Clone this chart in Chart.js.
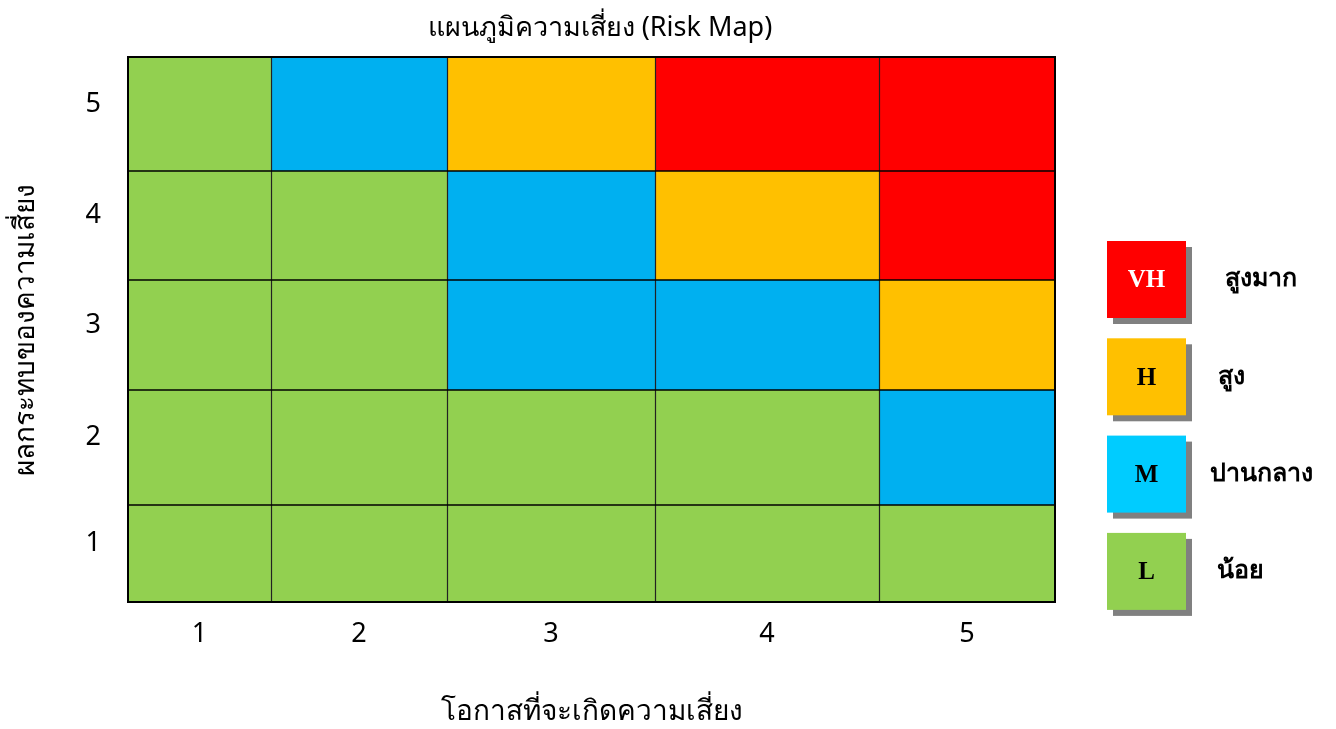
<!DOCTYPE html>
<html>
<head>
<meta charset="utf-8">
<script src="https://cdn.jsdelivr.net/npm/chart.js@4"></script>
<style>
  html, body { margin: 0; padding: 0; background: #fff; }
</style>
</head>
<body>
<canvas id="riskMap" width="1336" height="729"></canvas>
<script>
// ข้อมูลของแผนภูมิ
const likelihoodLabels = ['1', '2', '3', '4', '5'];
const impactLabels = ['1', '2', '3', '4', '5'];
// ระดับความเสี่ยงแต่ละช่อง: แถวจากผลกระทบ 1 (ล่าง) ถึง 5 (บน)
const riskRows = [
    ['L', 'L', 'L', 'L', 'L'],
    ['L', 'L', 'L', 'L', 'M'],
    ['L', 'L', 'M', 'M', 'H'],
    ['L', 'L', 'M', 'H', 'VH'],
    ['L', 'M', 'H', 'VH', 'VH']
];
const levelCodes = ['VH', 'H', 'M', 'L'];
const levelNames = ['สูงมาก', 'สูง', 'ปานกลาง', 'น้อย'];
const chartTitle = 'แผนภูมิความเสี่ยง (Risk Map)';
const xTitle = 'โอกาสที่จะเกิดความเสี่ยง';
const yTitle = 'ผลกระทบของความเสี่ยง';

// สีและขนาด
const cellColors = { VH: '#FF0000', H: '#FFC000', M: '#00B0F0', L: '#92D050' };
const legendColors = { VH: '#FF0000', H: '#FFC000', M: '#00CCFF', L: '#92D050' };
// ขอบช่องไม่เท่ากันเหมือนต้นฉบับ (หน่วยของแกน 0..5)
const colBounds = [0, 0.771, 1.721, 2.843, 4.051, 5];
const rowBounds = [0, 0.890, 1.945, 2.954, 3.954, 5];
const mids = b => b.slice(0, -1).map((v, i) => (v + b[i + 1]) / 2);

const thaiFont = '"Noto Sans", "DejaVu Sans", sans-serif';

const riskPlugin = {
    id: 'riskCells',
    beforeDatasetsDraw(chart) {
        const { ctx, scales: { x, y } } = chart;
        ctx.save();
        riskRows.forEach((row, r) => {
            row.forEach((lvl, c) => {
                const x0 = x.getPixelForValue(colBounds[c]);
                const x1 = x.getPixelForValue(colBounds[c + 1]);
                const y0 = y.getPixelForValue(rowBounds[r + 1]);
                const y1 = y.getPixelForValue(rowBounds[r]);
                ctx.fillStyle = cellColors[lvl];
                ctx.fillRect(x0, y0, x1 - x0, y1 - y0);
            });
        });
        const left = x.getPixelForValue(0), right = x.getPixelForValue(5);
        const top = y.getPixelForValue(5), bottom = y.getPixelForValue(0);
        // เส้นแบ่งช่อง
        ctx.strokeStyle = '#222';
        ctx.lineWidth = 1.2;
        colBounds.slice(1, -1).forEach(v => {
            const px = Math.round(x.getPixelForValue(v)) + 0.5;
            ctx.beginPath(); ctx.moveTo(px, top); ctx.lineTo(px, bottom); ctx.stroke();
        });
        ctx.strokeStyle = '#000';
        ctx.lineWidth = 1.6;
        rowBounds.slice(1, -1).forEach(v => {
            const py = Math.round(y.getPixelForValue(v));
            ctx.beginPath(); ctx.moveTo(left, py); ctx.lineTo(right, py); ctx.stroke();
        });
        // กรอบนอก
        ctx.lineWidth = 2;
        ctx.strokeStyle = '#000';
        ctx.strokeRect(left, top, right - left, bottom - top);
        ctx.restore();
    },
    afterDraw(chart) {
        const { ctx, chartArea } = chart;
        ctx.save();
        // หัวเรื่อง
        ctx.fillStyle = '#000';
        ctx.font = '27px ' + thaiFont;
        ctx.textAlign = 'center';
        ctx.textBaseline = 'middle';
        ctx.fillText(chartTitle, 600, 28);

        // คำอธิบาย
        const bx = chartArea.right + 52;
        const labelDx = [118, 111, 103, 110];
        levelCodes.forEach((code, i) => {
            const by = 241 + i * 97.3;
            ctx.fillStyle = '#808080';
            ctx.fillRect(bx + 6, by + 6, 79, 77);
            ctx.fillStyle = legendColors[code];
            ctx.fillRect(bx, by, 79, 77);
            ctx.fillStyle = code === 'VH' ? '#fff' : '#000';
            ctx.font = 'bold 25px "Liberation Serif", serif';
            ctx.textAlign = 'center';
            ctx.textBaseline = 'middle';
            ctx.fillText(code, bx + 39.5, by + 40);
            ctx.fillStyle = '#000';
            ctx.font = 'bold 25px "Liberation Serif", ' + thaiFont;
            ctx.textAlign = 'left';
            ctx.fillText(levelNames[i], bx + labelDx[i], by + 39);
        });
        ctx.restore();
    }
};

const cellPoints = [];
riskRows.forEach((row, r) => row.forEach((lvl, c) => {
    cellPoints.push({ x: mids(colBounds)[c], y: mids(rowBounds)[r], level: lvl });
}));

new Chart(document.getElementById('riskMap'), {
    type: 'scatter',
    data: {
        datasets: [{
            label: 'risk',
            data: cellPoints,
            pointRadius: 0,
            pointHoverRadius: 0
        }]
    },
    options: {
        responsive: false,
        animation: false,
        layout: { padding: { top: 57, right: 281, left: 0, bottom: 0 } },
        plugins: {
            legend: { display: false },
            tooltip: { enabled: false },
            title: { display: false }
        },
        scales: {
            x: {
                type: 'linear',
                min: 0,
                max: 5,
                grid: { display: false, drawTicks: false },
                border: { display: false },
                afterBuildTicks: s => { s.ticks = mids(colBounds).map(v => ({ value: v })); },
                afterFit: s => { s.height = 127; },
                ticks: {
                    padding: 16,
                    color: '#000',
                    font: { family: thaiFont, size: 27 },
                    callback: (v, i) => likelihoodLabels[i]
                },
                title: {
                    display: true,
                    text: xTitle,
                    color: '#000',
                    font: { family: thaiFont, size: 28 },
                    padding: { top: 0, bottom: 0 }
                }
            },
            y: {
                type: 'linear',
                min: 0,
                max: 5,
                grid: { display: false, drawTicks: false },
                border: { display: false },
                afterBuildTicks: s => { s.ticks = mids(rowBounds).map(v => ({ value: v })); },
                afterFit: s => { s.width = 128; },
                ticks: {
                    padding: 27,
                    labelOffset: -10,
                    color: '#000',
                    font: { family: thaiFont, size: 27 },
                    callback: (v, i) => impactLabels[i]
                },
                title: {
                    display: true,
                    text: yTitle,
                    color: '#000',
                    font: { family: thaiFont, size: 28 },
                    padding: { top: 9, bottom: 0 }
                }
            }
        }
    },
    plugins: [riskPlugin]
});
</script>
</body>
</html>
